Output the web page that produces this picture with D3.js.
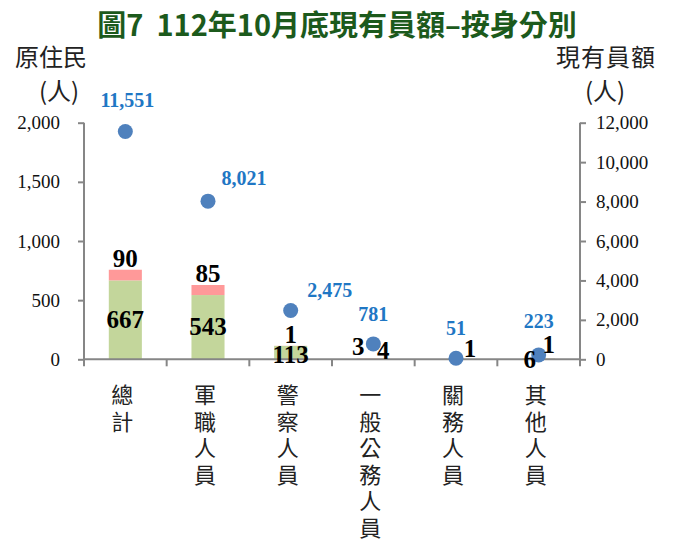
<!DOCTYPE html>
<html>
<head>
<meta charset="utf-8">
<script src="https://cdn.jsdelivr.net/npm/d3@7"></script>
<style>
  body { margin: 0; background: #fff; }
  svg { display: block; }
  .num { font-family: "Liberation Serif", "Times New Roman", serif; }
  .cjk { font-family: "Noto Sans CJK TC", "Noto Sans", sans-serif; }
</style>
</head>
<body>
<svg id="chart" width="673" height="543"></svg>
<script>
// ---- data ----
const categories  = ["總計", "軍職人員", "警察人員", "一般公務人員", "關務人員", "其他人員"];
const indigenousA = [667, 543, 113, 4, 1, 6];   // green segment
const indigenousB = [90, 85, 1, 3, 0, 1];        // pink segment
const staffTotal  = [11551, 8021, 2475, 781, 51, 223];
const leftTicks   = [0, 500, 1000, 1500, 2000];
const rightTicks  = [0, 2000, 4000, 6000, 8000, 10000, 12000];

// label nudges (px) so overlapping labels stay readable, like the original
const nudgeA    = [[0, 0], [0, 0], [0, 2], [10, -8], [14, -10], [-9, 1]];
const nudgeB    = [[0, 0], [0, 0], [0, 0], [-15, 0], [0, 0], [10, -2]];
const nudgeDot  = [[2, -25], [36, -16], [39, -14], [0, -23], [0, -23], [0, -27]];

const svg = d3.select("#chart");
const W = 673;
const plotL = 84, plotR = 580, plotT = 122.7, plotB = 359.3;
const axisColor = "#868686";
const fmt = d3.format(",");

const x  = d3.scaleBand().domain(categories).range([plotL, plotR])
  .paddingInner(0.6).paddingOuter(0.3);
const yL = d3.scaleLinear().domain([0, 2000]).range([plotB, plotT]);
const yR = d3.scaleLinear().domain([0, 12000]).range([plotB, plotT]);
const cx = c => x(c) + x.bandwidth() / 2;

// title
svg.append("text")
  .attr("class", "cjk")
  .attr("x", 337).attr("y", 36)
  .attr("text-anchor", "middle")
  .attr("font-size", 29).attr("font-weight", "bold")
  .attr("fill", "#1C5A1C")
  .attr("xml:space", "preserve")
  .text("圖7  112年10月底現有員額–按身分別");

// axis titles
const axisTitle = (tx, ty, s, ls) => svg.append("text").attr("class", "cjk")
  .attr("x", tx).attr("y", ty).attr("text-anchor", "middle")
  .attr("font-size", 24).attr("letter-spacing", ls).attr("fill", "#222").text(s);
axisTitle(51, 66, "原住民", 0);
axisTitle(59, 100, "(人)", 0);
axisTitle(606, 66, "現有員額", 1);
axisTitle(605, 100, "(人)", 0);

// bars
const bars = svg.append("g");
bars.selectAll("rect.a").data(categories).join("rect")
  .attr("class", "a")
  .attr("x", d => x(d)).attr("width", x.bandwidth())
  .attr("y", (d, i) => yL(indigenousA[i]))
  .attr("height", (d, i) => plotB - yL(indigenousA[i]))
  .attr("fill", "#C3D69B");
bars.selectAll("rect.b").data(categories).join("rect")
  .attr("class", "b")
  .attr("x", d => x(d)).attr("width", x.bandwidth())
  .attr("y", (d, i) => yL(indigenousA[i] + indigenousB[i]))
  .attr("height", (d, i) => yL(indigenousA[i]) - yL(indigenousA[i] + indigenousB[i]))
  .attr("fill", "#FF9999");

// axes
const gL = svg.append("g").attr("transform", `translate(${plotL},0)`)
  .call(d3.axisLeft(yL).tickValues(leftTicks).tickFormat(fmt).tickSize(6).tickPadding(18));
const gR = svg.append("g").attr("transform", `translate(${plotR},0)`)
  .call(d3.axisRight(yR).tickValues(rightTicks).tickFormat(fmt).tickSize(6).tickPadding(10));
[gL, gR].forEach(g => {
  g.select(".domain").attr("stroke", axisColor).attr("stroke-width", 2)
    .attr("d", `M0,${plotT}V${plotB}`);
  g.selectAll(".tick line").attr("stroke", axisColor).attr("stroke-width", 2);
  g.selectAll(".tick text").attr("class", "num").attr("font-size", 19).attr("fill", "#111");
});

// x baseline and category ticks at band edges
const edges = d3.range(categories.length + 1).map(i => plotL + i * x.step());
svg.append("line").attr("x1", plotL).attr("x2", plotR).attr("y1", plotB).attr("y2", plotB)
  .attr("stroke", axisColor).attr("stroke-width", 2);
svg.selectAll("line.xt").data(edges).join("line").attr("class", "xt")
  .attr("x1", d => d).attr("x2", d => d).attr("y1", plotB).attr("y2", plotB + 7)
  .attr("stroke", axisColor).attr("stroke-width", 2);

// vertical category labels, one character per line
svg.selectAll("text.cat").data(categories).join("text")
  .attr("class", "cat cjk")
  .attr("font-size", 22).attr("fill", "#222")
  .attr("text-anchor", "middle")
  .each(function(d) {
    const t = d3.select(this);
    Array.from(d).forEach((ch, k) => {
      t.append("tspan").attr("x", cx(d) - 3).attr("y", 403 + k * 26.5).text(ch);
    });
  });

// scatter dots
svg.selectAll("circle.dot").data(categories).join("circle")
  .attr("class", "dot")
  .attr("cx", d => cx(d)).attr("cy", (d, i) => yR(staffTotal[i]))
  .attr("r", 7.5).attr("fill", "#4F81BD");

// bar labels
svg.selectAll("text.la").data(categories).join("text")
  .attr("class", "la num")
  .attr("x", (d, i) => cx(d) + nudgeA[i][0])
  .attr("y", (d, i) => yL(indigenousA[i] / 2) + 8 + nudgeA[i][1])
  .attr("text-anchor", "middle").attr("font-size", 25).attr("font-weight", "bold").attr("fill", "#000")
  .text((d, i) => indigenousA[i] ? fmt(indigenousA[i]) : "");
svg.selectAll("text.lb").data(categories).join("text")
  .attr("class", "lb num")
  .attr("x", (d, i) => cx(d) + nudgeB[i][0])
  .attr("y", (d, i) => yL(indigenousA[i] + indigenousB[i]) - 3 + nudgeB[i][1])
  .attr("text-anchor", "middle").attr("font-size", 25).attr("font-weight", "bold").attr("fill", "#000")
  .text((d, i) => indigenousB[i] ? fmt(indigenousB[i]) : "");

// dot labels
svg.selectAll("text.ld").data(categories).join("text")
  .attr("class", "ld num")
  .attr("x", (d, i) => cx(d) + nudgeDot[i][0])
  .attr("y", (d, i) => yR(staffTotal[i]) + nudgeDot[i][1])
  .attr("text-anchor", "middle").attr("font-size", 20).attr("font-weight", "bold").attr("fill", "#1F77C4")
  .text((d, i) => fmt(staffTotal[i]));
</script>
</body>
</html>
